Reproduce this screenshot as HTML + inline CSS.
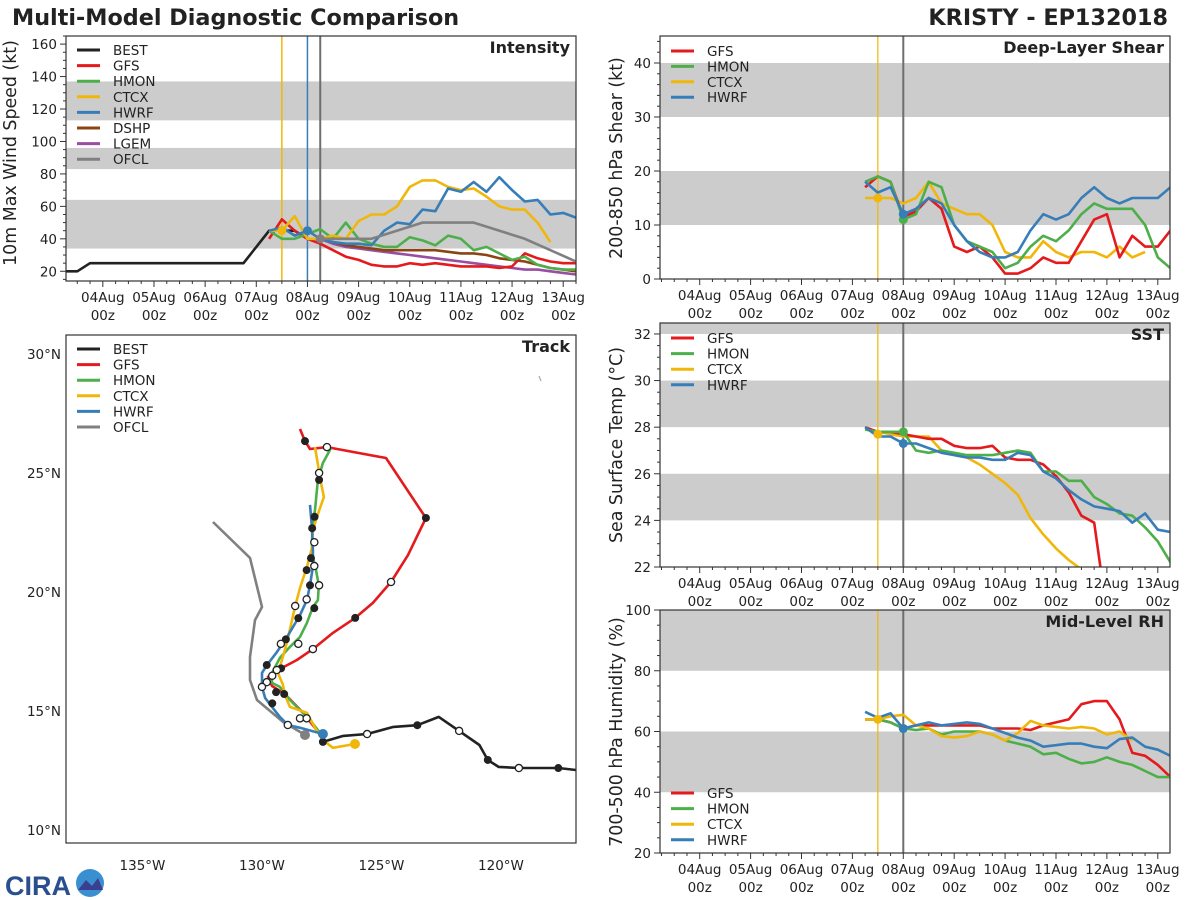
<!DOCTYPE html>
<html><head><meta charset="utf-8">
<style>
html,body{margin:0;padding:0;background:#fff;}
svg{display:block;font-family:"DejaVu Sans","Liberation Sans",sans-serif;}
</style></head>
<body>
<svg id="fig" width="1200" height="900" viewBox="0 0 1200 900" xmlns="http://www.w3.org/2000/svg">
<text x="12" y="25" font-size="22.3" font-weight="bold" fill="#222">Multi-Model Diagnostic Comparison</text>
<text x="1168" y="25" font-size="22.3" font-weight="bold" fill="#222" text-anchor="end">KRISTY - EP132018</text>
<g>
<text x="5" y="895" font-size="27" font-weight="bold" fill="#2a4f8f" font-family="Liberation Sans, sans-serif">CIRA</text>
<circle cx="90" cy="883" r="14" fill="#3a8fd0"/>
<path d="M78 890 L86 880 L92 886 L98 878 L103 890 Z" fill="#3b3f8f"/>
</g>
</svg>
<script>
// ---------- intensity data ----------
const bestInt = [20,20,25,25,25,25,25,25,25,25,25,25,25,25,25,35,45,45,45,40];
const gfsInt = [40,52,45,40,37,33,29,27,24,23,23,25,24,25,24,23,23,23,22,23,31,28,26,25,25];
const hmonInt = [45,40,40,43,46,40,50,40,37,35,35,41,39,36,42,40,33,35,31,27,29,24,22,21,21];
const ctcxInt = [45,45,54,40,40,42,40,51,55,55,60,72,76,76,72,70,71,66,60,58,58,50,38];
const hwrfInt = [45,47,42,45,40,38,37,37,36,45,50,49,58,57,71,69,75,69,78,70,63,64,55,56,53];
const dshpInt = [40,38,36,35,34,33,33,33,33,33,32,31,31,30,28,27,26,24,22,21,20];
const lgemInt = [40,37,35,34,33,32,31,30,29,28,27,26,25,24,23,22,21,21,20,19,18];
const ofclTimes = [4.25,5.25,6.25,7.25,8.25,9.25];
const ofclInt = [40,40,50,50,40,26];
const intTicks = [20,40,60,80,100,120,140,160];
// ---------- shear ----------
const gfsShr = [17,19,18,11.5,12.5,15,13,6,5,6,4,1,1,2,4,3,3,7,11,12,4,8,6,6,9];
const hmonShr = [18,19,18,11,12,18,17,10,7,6,5,2,3,6,8,7,9,12,14,13,13,13,10,4,2];
const ctcxShr = [15,15,15,14,15,18,14,13,12,12,10,5,4,4,7,5,4,5,5,4,6,4,5];
const hwrfShr = [18,16,17,12,13,15,14,10,7,5,4,4,5,9,12,11,12,15,17,15,14,15,15,15,17];
const shrTicks = [0,10,20,30,40];
// ---------- SST ----------
const gfsSst = [28.0,27.8,27.8,27.7,27.6,27.5,27.5,27.2,27.1,27.1,27.2,26.7,26.6,26.6,26.4,25.9,25.2,24.2,23.9,20];
const hmonSst = [27.9,27.8,27.8,27.8,27.0,26.9,27.0,26.9,26.8,26.8,26.8,26.9,27.0,26.9,26.1,26.1,25.7,25.7,25.0,24.7,24.3,24.2,23.7,23.1,22.2];
const ctcxSst = [27.9,27.8,27.7,27.6,27.6,27.6,27.0,26.8,26.7,26.4,26.0,25.6,25.1,24.1,23.4,22.8,22.3,21.9,21.4];
const hwrfSst = [28.0,27.6,27.6,27.3,27.3,27.1,26.9,26.8,26.7,26.7,26.6,26.6,26.9,26.8,26.1,25.8,25.3,24.9,24.6,24.5,24.4,23.9,24.3,23.6,23.5];
const sstTicks = [22,24,26,28,30,32];
// ---------- RH ----------
const gfsRh = [64,64,63,61,62,62,62,62,62,62,61,61,61,60.5,62,63,64,69,70,70,64,53,52,49,45];
const hmonRh = [64,64,63,61,60.5,61,59,60,60,60,59,57,56,55,52.5,53,51,49.5,50,51.5,50,49,47,45,45];
const ctcxRh = [64,64,65,65.5,62,61,58.5,58,58.5,60,59,57,59.5,63.5,62,61.5,61,61.5,61,59,60,57];
const hwrfRh = [66.5,64.5,66,61,62,63,62,62.5,63,62.5,61,59.5,58,57,55,55.5,56,56,55,54.5,57.5,58,55,54,52];
const rhTicks = [20,40,60,80,100];
const dayLabels = ["04Aug","05Aug","06Aug","07Aug","08Aug","09Aug","10Aug","11Aug","12Aug","13Aug"];
// ---------- track (lon W, lat N) ----------
const bestLon = [116.86,117.6,119.25,120.1,120.55,120.9,121.75,122.6,123.5,124.5,125.6,126.6,127.45];
const bestLat = [12.52,12.6,12.6,12.65,12.94,13.57,14.16,14.75,14.4,14.33,14.03,13.95,13.7];
const gfsLon = [127.49,128.28,129.04,129.58,129.75,129.16,128.54,127.87,127.03,126.1,125.36,124.6,123.89,123.14,124.81,127.28,127.99,128.2,128.41];
const gfsLat = [13.91,14.92,15.71,16.05,16.43,16.81,17.14,17.6,18.28,18.91,19.54,20.42,21.55,23.11,25.63,26.09,26.01,26.34,26.85];
const hmonLon = [127.57,127.99,128.83,129.25,129.58,129.58,129.25,128.83,128.41,128.12,127.87,127.66,127.62,127.74,127.87,127.91,127.87,127.78,127.66,127.45,127.11];
const hmonLat = [14.08,14.62,15.46,16.01,16.18,16.6,17.23,17.69,18.11,18.7,19.37,19.66,20.29,20.92,21.47,22.06,22.9,23.45,24.71,25.42,26.05];
const ctcxLon = [126.11,127.03,127.45,127.78,128.12,128.83,129.04,129.12,129.33,129.16,128.95,128.62,128.41,128.12,127.91,127.87,127.7,127.41,127.53,127.78];
const ctcxLat = [13.61,13.45,13.78,14.29,14.92,15.17,15.67,16.09,16.6,17.14,17.9,19.37,20.17,21.05,21.85,22.6,23.15,23.99,24.58,26.09];
const hwrfLon = [127.45,128.41,128.91,129.25,129.58,129.87,130.0,130.0,129.79,129.37,128.95,128.41,128.12,127.99,127.87,127.87,127.91,127.99];
const hwrfLat = [14.03,14.29,14.41,14.75,15.17,15.55,16.01,16.6,16.93,17.48,18.11,19.03,19.66,20.29,21.05,21.76,22.73,23.66];
const ofclLon = [128.2,128.41,129.12,130.21,130.5,130.5,130.29,130.0,130.5,132.05];
const ofclLat = [13.99,14.12,14.54,15.46,16.3,17.27,18.82,19.37,21.43,22.94];
const fullDotLon = [127.45,123.5,120.55,117.6,127.61,127.8,127.9,127.95,128.13,127.99,127.81,128.48,129.0,129.8,129.2,129.41,129.07,129.57,126.1,123.14,128.2];
const fullDotLat = [13.7,14.4,12.94,12.6,24.71,23.16,22.68,21.42,20.92,20.28,19.32,18.9,18.01,16.93,16.79,15.79,15.71,15.32,18.91,23.11,26.34];
const openDotLon = [125.6,121.75,119.25,127.61,127.81,127.81,127.61,128.13,128.61,129.21,128.48,129.38,129.57,129.8,130.0,128.92,128.41,128.13,127.87,124.6,127.28];
const openDotLat = [14.03,14.16,12.6,25.0,22.09,21.09,20.28,19.69,19.41,17.82,17.82,16.72,16.48,16.21,16.01,14.41,14.69,14.69,17.6,20.42,26.09];
const lonTicks = [135,130,125,120];
const latTicks = [10,15,20,25,30];

const C = {BEST:"#222222",GFS:"#e41a1c",HMON:"#4daf4a",CTCX:"#f0b70a",HWRF:"#377eb8",DSHP:"#8b4513",LGEM:"#984ea3",OFCL:"#808080"};
const NS = "http://www.w3.org/2000/svg";
const svg = document.getElementById('fig');
function mk(tag, attrs, parent){ const e=document.createElementNS(NS,tag); for(const k in attrs) e.setAttribute(k,attrs[k]); (parent||svg).appendChild(e); return e; }

function panel(name, r, xd, yd){
  const g = mk('g',{});
  
  
  const sx = v => r.l + (v-xd[0])/(xd[1]-xd[0])*(r.r-r.l);
  const sy = v => r.b - (v-yd[0])/(yd[1]-yd[0])*(r.b-r.t);
  const clipId = name+'-clip';
  const cp = mk('clipPath',{id:clipId}, g);
  mk('rect',{x:r.l,y:r.t,width:r.r-r.l,height:r.b-r.t}, cp);
  const plot = mk('g',{'clip-path':'url(#'+clipId+')'}, g);
  return {g, plot, sx, sy, r};
}
function band(P, y0, y1){
  const e = mk('rect',{x:P.r.l, y:P.sy(y1), width:P.r.r-P.r.l, height:P.sy(y0)-P.sy(y1), fill:'#cccccc'}, P.plot);
  
  
}
function frame(P){
  const e = mk('rect',{x:P.r.l,y:P.r.t,width:P.r.r-P.r.l,height:P.r.b-P.r.t,fill:'none',stroke:'#333','stroke-width':1.2}, P.g);
  
  
}
function series(P, times, vals, color, name, w){
  const pts = vals.map((v,i)=>P.sx(times[i]).toFixed(1)+','+P.sy(v).toFixed(1)).join(' ');
  const e = mk('polyline',{points:pts, fill:'none', stroke:color, 'stroke-width':w||2.6, 'stroke-linejoin':'round'}, P.plot);
  
  
}
function dot(P, t, v, color, name){
  const e = mk('circle',{cx:P.sx(t), cy:P.sy(v), r:4.5, fill:color}, P.plot);
  
  
}
function vline(P, t, color, name, w){
  const e = mk('line',{x1:P.sx(t),x2:P.sx(t),y1:P.r.t,y2:P.r.b,stroke:color,'stroke-width':w||1.5}, P.plot);
  
  
}
function times(start, n){ const a=[]; for(let i=0;i<n;i++) a.push(start+i*0.25); return a; }
function timeAxis(P, xd){
  for(let q=Math.ceil(xd[0]*4); q<=Math.floor(xd[1]*4); q++){
    const t=q/4, x=P.sx(t), major = (q%4===0);
    mk('line',{x1:x,x2:x,y1:P.r.b,y2:P.r.b+(major?6:3),stroke:'#333','stroke-width':1}, P.g);
  }
  dayLabels.forEach((d,i)=>{
    const x=P.sx(i);
    const a = mk('text',{x:x,y:P.r.b+21,'font-size':13.5,'text-anchor':'middle',fill:'#222'}, P.g);
    a.textContent = d;
    
    
    const b = mk('text',{x:x,y:P.r.b+39,'font-size':13.5,'text-anchor':'middle',fill:'#222'}, P.g);
    b.textContent = '00z';
    
    
  });
}
function yAxis(P, ticks, minorStep, yd, fmt){
  for(let v=Math.ceil(yd[0]/minorStep)*minorStep; v<=yd[1]; v+=minorStep){
    const y=P.sy(v); const major = ticks.some(t=>Math.abs(t-v)<1e-6);
    mk('line',{x1:P.r.l-(major?6:3),x2:P.r.l,y1:y,y2:y,stroke:'#333','stroke-width':1}, P.g);
  }
  ticks.forEach(v=>{
    const e = mk('text',{x:P.r.l-9,y:P.sy(v)+5,'font-size':13.5,'text-anchor':'end',fill:'#222'}, P.g);
    e.textContent = fmt?fmt(v):String(v);
    
    
  });
}
function yTitle(x, cy, text, name){
  const e = mk('text',{x:x,y:cy,'font-size':17.4,'text-anchor':'middle',fill:'#222',transform:'rotate(-90 '+x+' '+cy+')'});
  e.textContent = text;
  
  
}
function pTitle(P, text, name){
  const e = mk('text',{x:P.r.r-6,y:P.r.t+17,'font-size':16,'font-weight':'bold','text-anchor':'end',fill:'#222'}, P.g);
  e.textContent = text;
  
  
}
function legend(P, names, y0, dy){
  names.forEach((n,i)=>{
    const y=y0+i*dy;
    const g = mk('g',{}, P.g);
    
    
    mk('line',{x1:P.r.l+11,x2:P.r.l+34,y1:y,y2:y,stroke:C[n],'stroke-width':3}, g);
    const t = mk('text',{x:P.r.l+47,y:y+5,'font-size':13.5,fill:'#222'}, g);
    t.textContent = n;
  });
}

// ---------- Intensity ----------
const xdI=[-0.72,9.25], ydI=[14,165];
const PI = panel('intensity-panel',{l:66,t:36,r:576,b:281},xdI,ydI);
band(PI,34,64); band(PI,83,96); band(PI,113,137);
vline(PI,3.5,C.CTCX,'ctcx-init-line'); vline(PI,4.0,C.HWRF,'hwrf-init-line'); vline(PI,4.25,'#6e6e6e','ofcl-init-line',2);
series(PI,times(-0.75,bestInt.length),bestInt,C.BEST,'best-intensity-line');
series(PI,times(4.25,lgemInt.length),lgemInt,C.LGEM,'lgem-intensity-line');
series(PI,times(4.25,dshpInt.length),dshpInt,C.DSHP,'dshp-intensity-line');
series(PI,times(3.25,gfsInt.length),gfsInt,C.GFS,'gfs-intensity-line');
series(PI,times(3.25,hmonInt.length),hmonInt,C.HMON,'hmon-intensity-line');
series(PI,times(3.25,ctcxInt.length),ctcxInt,C.CTCX,'ctcx-intensity-line');
series(PI,times(3.25,hwrfInt.length),hwrfInt,C.HWRF,'hwrf-intensity-line');
series(PI,ofclTimes,ofclInt,C.OFCL,'ofcl-intensity-line');
dot(PI,3.5,ctcxInt[1],C.CTCX,'ctcx-init-dot'); dot(PI,4.0,hwrfInt[3],C.HWRF,'hwrf-init-dot'); dot(PI,4.25,ofclInt[0],C.OFCL,'ofcl-init-dot');
frame(PI); timeAxis(PI,xdI); yAxis(PI,intTicks,5,ydI);
pTitle(PI,'Intensity','intensity-title');
legend(PI,['BEST','GFS','HMON','CTCX','HWRF','DSHP','LGEM','OFCL'],50,15.6);
yTitle(16,153,'10m Max Wind Speed (kt)','intensity-y-axis-title');

// ---------- Shear ----------
const xdR=[-0.78,9.24];
const ydS=[0,45];
const PS = panel('shear-panel',{l:660,t:36,r:1170,b:279},xdR,ydS);
band(PS,10,20); band(PS,30,40);
vline(PS,3.5,C.CTCX,'ctcx-init-line',1.2); vline(PS,4.0,'#6e6e6e','init-line',2);
series(PS,times(3.25,ctcxShr.length),ctcxShr,C.CTCX,'ctcx-shear-line');
series(PS,times(3.25,gfsShr.length),gfsShr,C.GFS,'gfs-shear-line');
series(PS,times(3.25,hmonShr.length),hmonShr,C.HMON,'hmon-shear-line');
series(PS,times(3.25,hwrfShr.length),hwrfShr,C.HWRF,'hwrf-shear-line');
dot(PS,3.5,ctcxShr[1],C.CTCX,'ctcx-init-dot'); dot(PS,4.0,hmonShr[3],C.HMON,'hmon-init-dot'); dot(PS,4.0,hwrfShr[3],C.HWRF,'hwrf-init-dot');
frame(PS); timeAxis(PS,xdR); yAxis(PS,shrTicks,2,ydS);
pTitle(PS,'Deep-Layer Shear','shear-title');
legend(PS,['GFS','HMON','CTCX','HWRF'],51,15.4);
yTitle(622,158,'200-850 hPa Shear (kt)','shear-y-axis-title');

// ---------- SST ----------
const ydT=[22,32.47];
const PT = panel('sst-panel',{l:660,t:323,r:1170,b:567},xdR,ydT);
band(PT,24,26); band(PT,28,30); band(PT,32,34);
vline(PT,3.5,C.CTCX,'ctcx-init-line',1.2); vline(PT,4.0,'#6e6e6e','init-line',2);
series(PT,times(3.25,ctcxSst.length),ctcxSst,C.CTCX,'ctcx-sst-line');
series(PT,times(3.25,gfsSst.length),gfsSst,C.GFS,'gfs-sst-line');
series(PT,times(3.25,hmonSst.length),hmonSst,C.HMON,'hmon-sst-line');
series(PT,times(3.25,hwrfSst.length),hwrfSst,C.HWRF,'hwrf-sst-line');
dot(PT,3.5,27.7,C.CTCX,'ctcx-init-dot'); dot(PT,4.0,hmonSst[3],C.HMON,'hmon-init-dot'); dot(PT,4.0,hwrfSst[3],C.HWRF,'hwrf-init-dot');
frame(PT); timeAxis(PT,xdR); yAxis(PT,sstTicks,0.5,ydT);
pTitle(PT,'SST','sst-title');
legend(PT,['GFS','HMON','CTCX','HWRF'],338,15.6);
yTitle(622,445,'Sea Surface Temp (°C)','sst-y-axis-title');

// ---------- RH ----------
const ydH=[20,100];
const PH = panel('rh-panel',{l:660,t:610,r:1170,b:853},xdR,ydH);
band(PH,40,60); band(PH,80,100);
vline(PH,3.5,C.CTCX,'ctcx-init-line',1.2); vline(PH,4.0,'#6e6e6e','init-line',2);
series(PH,times(3.25,gfsRh.length),gfsRh,C.GFS,'gfs-rh-line');
series(PH,times(3.25,hmonRh.length),hmonRh,C.HMON,'hmon-rh-line');
series(PH,times(3.25,ctcxRh.length),ctcxRh,C.CTCX,'ctcx-rh-line');
series(PH,times(3.25,hwrfRh.length),hwrfRh,C.HWRF,'hwrf-rh-line');
dot(PH,3.5,ctcxRh[1],C.CTCX,'ctcx-init-dot'); dot(PH,4.0,hmonRh[3],C.HMON,'hmon-init-dot'); dot(PH,4.0,hwrfRh[3],C.HWRF,'hwrf-init-dot');
frame(PH); timeAxis(PH,xdR); yAxis(PH,rhTicks,5,ydH);
pTitle(PH,'Mid-Level RH','rh-title');
legend(PH,['GFS','HMON','CTCX','HWRF'],793,15.6);
yTitle(622,732,'700-500 hPa Humidity (%)','rh-y-axis-title');

// ---------- Track ----------
const lonD=[138.2,116.86], latD=[9.45,30.8];
const PK = panel('track-panel',{l:66,t:335,r:576,b:843},lonD,latD);
function track(lons,lats,color,name){
  const pts = lons.map((v,i)=>PK.sx(v).toFixed(1)+','+PK.sy(lats[i]).toFixed(1)).join(' ');
  const e = mk('polyline',{points:pts,fill:'none',stroke:color,'stroke-width':2.6,'stroke-linejoin':'round'}, PK.plot);
  
  
}
track(ofclLon,ofclLat,C.OFCL,'ofcl-track');
track(bestLon,bestLat,C.BEST,'best-track');
track(gfsLon,gfsLat,C.GFS,'gfs-track');
track(hmonLon,hmonLat,C.HMON,'hmon-track');
track(ctcxLon,ctcxLat,C.CTCX,'ctcx-track');
track(hwrfLon,hwrfLat,C.HWRF,'hwrf-track');
fullDotLon.forEach((v,i)=>{
  const e = mk('circle',{cx:PK.sx(v),cy:PK.sy(fullDotLat[i]),r:4,fill:'#222'}, PK.plot);
  
  
});
openDotLon.forEach((v,i)=>{
  const e = mk('circle',{cx:PK.sx(v),cy:PK.sy(openDotLat[i]),r:3.6,fill:'#fff',stroke:'#222','stroke-width':1.3}, PK.plot);
  
  
});
[[ctcxLon,ctcxLat,C.CTCX,'ctcx'],[ofclLon,ofclLat,C.OFCL,'ofcl'],[hwrfLon,hwrfLat,C.HWRF,'hwrf']].forEach(a=>{
  const e = mk('circle',{cx:PK.sx(a[0][0]),cy:PK.sy(a[1][0]),r:5,fill:a[2]}, PK.plot);
  
  
});
mk('line',{x1:539,y1:376,x2:541,y2:381,stroke:'#aaa','stroke-width':1.2}, PK.plot);
frame(PK);
lonTicks.forEach(v=>{
  const e = mk('text',{x:PK.sx(v),y:870,'font-size':13.5,'text-anchor':'middle',fill:'#222'}, PK.g);
  e.textContent = v+'°W';
  
  
});
latTicks.forEach(v=>{
  const e = mk('text',{x:61,y:PK.sy(v)+5,'font-size':13.5,'text-anchor':'end',fill:'#222'}, PK.g);
  e.textContent = v+'°N';
  
  
});
pTitle(PK,'Track','track-title');
legend(PK,['BEST','GFS','HMON','CTCX','HWRF','OFCL'],349,15.6);
</script>
</body></html>
